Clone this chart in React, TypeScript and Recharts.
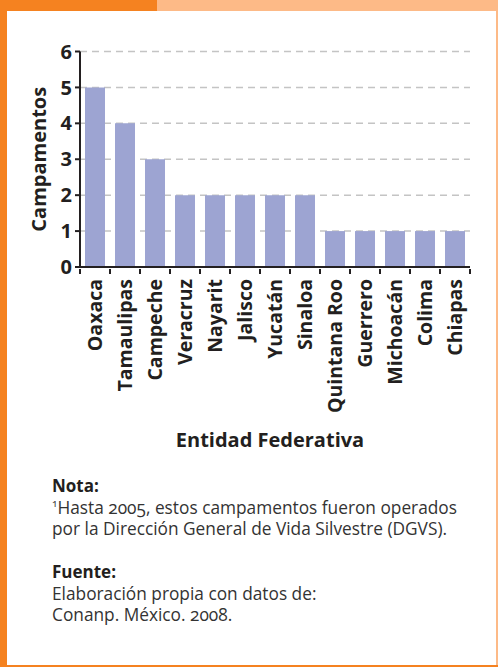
import { BarChart, Bar, XAxis, YAxis, CartesianGrid } from "recharts";

const entidades = [
  "Oaxaca",
  "Tamaulipas",
  "Campeche",
  "Veracruz",
  "Nayarit",
  "Jalisco",
  "Yucatán",
  "Sinaloa",
  "Quintana Roo",
  "Guerrero",
  "Michoacán",
  "Colima",
  "Chiapas",
];
const campamentos = [5, 4, 3, 2, 2, 2, 2, 2, 1, 1, 1, 1, 1];
const yTicks = [0, 1, 2, 3, 4, 5, 6];

const notaLines = [
  "Hasta 2005, estos campamentos fueron operados",
  "por la Dirección General de Vida Silvestre (DGVS).",
];
const fuenteLines = ["Elaboración propia con datos de:", "Conanp. México. 2008."];

const data = entidades.map((entidad, i) => ({ entidad, campamentos: campamentos[i] }));

const INK = "#231f20";
const FONT = "'Open Sans', sans-serif";

function EntidadTick(props: any) {
  const { x, y, payload, index } = props;
  const half = payload.offset ?? 15;
  const last = index === entidades.length - 1;
  return (
    <g>
      <line x1={x - half} y1={y - 5} x2={x - half} y2={y} stroke={INK} strokeWidth={2} />
      {last && <line x1={x + half} y1={y - 5} x2={x + half} y2={y} stroke={INK} strokeWidth={2} />}
      <text
        x={x + 7}
        y={y + 5}
        transform={`rotate(-90, ${x + 7}, ${y + 5})`}
        textAnchor="end"
        fontFamily={FONT}
        fontWeight={700}
        fontSize={19.5}
        fill={INK}
      >
        {payload.value}
      </text>
    </g>
  );
}

export default function App() {
  return (
    <div
      style={{
        position: "absolute",
        left: 0,
        top: 0,
        width: 498,
        height: 667,
        background: "#fff",
        overflow: "hidden",
        fontFamily: FONT,
      }}
    >
      {/* frame */}
      <div style={{ position: "absolute", left: 157, top: 0, width: 341, height: 11, background: "#fdba87" }} />
      <div style={{ position: "absolute", left: 0, top: 0, width: 157, height: 11, background: "#f58220" }} />
      <div style={{ position: "absolute", left: 0, top: 0, width: 7, height: 667, background: "#f58220" }} />
      <div style={{ position: "absolute", left: 496, top: 0, width: 2, height: 667, background: "#fdba87" }} />
      <div style={{ position: "absolute", left: 0, top: 665, width: 498, height: 2, background: "#f58220" }} />

      <div style={{ position: "absolute", left: 0, top: 0 }}>
        <BarChart
          width={498}
          height={460}
          data={data}
          margin={{ top: 51.5, right: 28, left: 0, bottom: 13 }}
          barSize={20}
        >
          <CartesianGrid vertical={false} stroke="#c4c4c4" strokeWidth={1.5} strokeDasharray="7 5" />
          <XAxis
            dataKey="entidad"
            interval={0}
            height={180}
            tickLine={false}
            tickSize={5}
            axisLine={{ stroke: INK, strokeWidth: 2 }}
            tick={<EntidadTick />}
            label={(p: any) => {
              const vb = p.viewBox;
              return (
                <text
                  x={vb.x + vb.width / 2 - 5}
                  y={vb.y + 180}
                  textAnchor="middle"
                  fontFamily={FONT}
                  fontWeight={700}
                  fontSize={20}
                  fill={INK}
                >
                  Entidad Federativa
                </text>
              );
            }}
          />
          <YAxis
            width={80}
            domain={[0, 6]}
            ticks={yTicks}
            interval={0}
            tickSize={5}
            tickMargin={3}
            tickLine={{ stroke: INK, strokeWidth: 2 }}
            axisLine={{ stroke: INK, strokeWidth: 2 }}
            tick={{ fontFamily: FONT, fontWeight: 700, fontSize: 20, fill: INK }}
            label={(p: any) => {
              const vb = p.viewBox;
              const cy = vb.y + vb.height / 2;
              return (
                <text
                  x={46}
                  y={cy}
                  transform={`rotate(-90, 46, ${cy})`}
                  textAnchor="middle"
                  fontFamily={FONT}
                  fontWeight={700}
                  fontSize={20}
                  fill={INK}
                >
                  Campamentos
                </text>
              );
            }}
          />
          <Bar dataKey="campamentos" fill="#9da4d2" isAnimationActive={false} />
        </BarChart>
      </div>

      <svg
        width={498}
        height={200}
        style={{ position: "absolute", left: 0, top: 467 }}
        fontFamily={FONT}
      >
        <text x={52} y={25} fontSize={17} fontWeight={700} fill={INK}>
          Nota:
        </text>
        {notaLines.map((line, i) => (
          <text key={line} x={52} y={46.5 + i * 21.5} fontSize={17.3} fill="#333" style={{ fontVariantNumeric: "oldstyle-nums" }}>
            {i === 0 && (
              <tspan fontSize={10} dy={-7}>
                1
              </tspan>
            )}
            <tspan dy={i === 0 ? 7 : 0}>{line}</tspan>
          </text>
        ))}
        <text x={52} y={111} fontSize={17} fontWeight={700} fill={INK}>
          Fuente:
        </text>
        {fuenteLines.map((line, i) => (
          <text key={line} x={52} y={132.5 + i * 21.5} fontSize={17.3} fill="#333" style={{ fontVariantNumeric: "oldstyle-nums" }}>
            {line}
          </text>
        ))}
      </svg>
    </div>
  );
}
